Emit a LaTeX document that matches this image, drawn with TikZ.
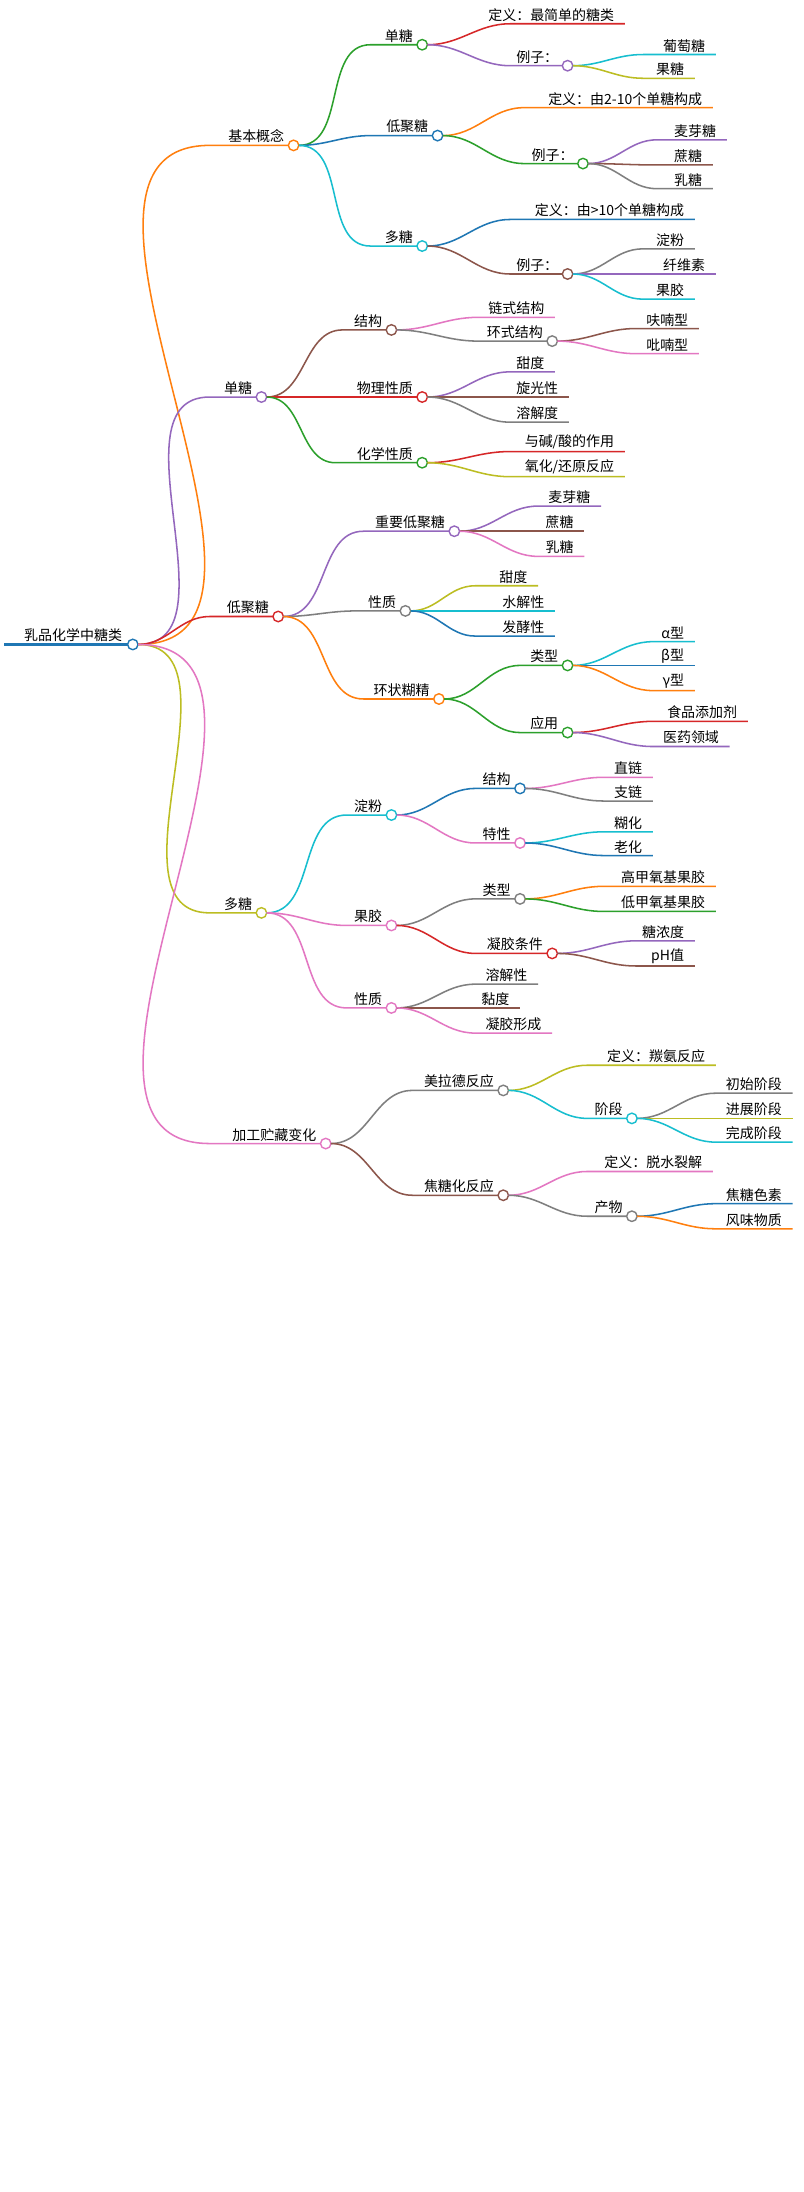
\documentclass[tikz,border=0pt]{standalone}
\usepackage{fontspec}
\setmainfont{Noto Sans CJK SC}
\begin{document}
\begin{tikzpicture}[x=1pt,y=1pt]
\definecolor{cO}{RGB}{255,127,14}\definecolor{cB}{RGB}{31,119,180}
\definecolor{cG}{RGB}{44,160,44}\definecolor{cR}{RGB}{214,39,40}
\definecolor{cP}{RGB}{148,103,189}\definecolor{cN}{RGB}{140,86,75}
\definecolor{cK}{RGB}{227,119,194}\definecolor{cA}{RGB}{127,127,127}
\definecolor{cL}{RGB}{188,189,34}\definecolor{cC}{RGB}{23,190,207}
\tikzset{ln/.style={line width=1.1pt},
 cir/.style={circle,fill=white,line width=1pt,minimum size=7.5pt,inner sep=0pt},
 lbl/.style={font=\fontsize{10}{12}\selectfont,inner sep=1.5pt,text=black}}
\newcommand\nd[7]{\coordinate (#1s) at (#3,-#5); \coordinate (#1) at (#4,-#5);
 \draw[#6,ln] ([xshift=3.75pt]#2) to[out=0,in=180] (#1s) -- ([xshift=-3.75pt]#1);
 \node[cir,draw=#6] (#1c) at (#1) {};
 \node[lbl,anchor=south east] (#1t) at ([xshift=-5pt]#1) {#7};}
\newcommand\lf[7]{\coordinate (#1s) at (#3,-#5); \coordinate (#1) at (#4,-#5);
 \draw[#6,ln] ([xshift=3.75pt]#2) to[out=0,in=180] (#1s) -- (#1);
 \node[lbl,anchor=south east] (#1t) at ([xshift=-6pt]#1) {#7};}
\useasboundingbox[fill=white] (0,0) rectangle (575,-1568);
% root
\coordinate (r0) at (3,-461); \coordinate (r) at (95,-461);
\draw[cB,line width=2.5pt] (r0) -- ([xshift=-3.75pt]r);
\node[cir,draw=cB] (rc) at (r) {};
\node[lbl,anchor=south east] (rt) at ([xshift=-6pt]r) {乳品化学中糖类};
% level 1
\nd{a}{r}{150}{210}{104}{cO}{基本概念}
\nd{b}{r}{150}{187}{284}{cP}{单糖}
\nd{c}{r}{150}{199}{441}{cR}{低聚糖}
\nd{d}{r}{150}{187}{653}{cL}{多糖}
\nd{e}{r}{150}{233}{818}{cK}{加工贮藏变化}
% 基本概念
\nd{a1}{a}{265}{302}{32}{cG}{单糖}
\lf{a11}{a1}{365}{447}{17}{cR}{定义：最简单的糖类}
\nd{a12}{a1}{365}{406}{47}{cP}{例子：}
\lf{a121}{a12}{460}{512}{39}{cC}{葡萄糖}
\lf{a122}{a12}{460}{497}{56}{cL}{果糖}
\nd{a2}{a}{265}{313}{97}{cB}{低聚糖}
\lf{a21}{a2}{375}{510}{77}{cO}{定义：由2-10个单糖构成}
\nd{a22}{a2}{375}{417}{117}{cG}{例子：}
\lf{a221}{a22}{470}{520}{100}{cP}{麦芽糖}
\lf{a222}{a22}{470}{510}{118}{cN}{蔗糖}
\lf{a223}{a22}{470}{510}{135}{cA}{乳糖}
\nd{a3}{a}{265}{302}{176}{cC}{多糖}
\lf{a31}{a3}{365}{497}{157}{cB}{定义：由>10个单糖构成}
\nd{a32}{a3}{365}{406}{196}{cN}{例子：}
\lf{a321}{a32}{460}{497}{178}{cA}{淀粉}
\lf{a322}{a32}{460}{512}{196}{cP}{纤维素}
\lf{a323}{a32}{460}{497}{214}{cC}{果胶}
% 单糖
\nd{b1}{b}{245}{280}{236}{cN}{结构}
\lf{b11}{b1}{342}{397}{227}{cK}{链式结构}
\nd{b12}{b1}{342}{395}{244}{cA}{环式结构}
\lf{b121}{b12}{455}{500}{235}{cN}{呋喃型}
\lf{b122}{b12}{455}{500}{253}{cK}{吡喃型}
\nd{b2}{b}{240}{302}{284}{cR}{物理性质}
\lf{b21}{b2}{365}{397}{266}{cP}{甜度}
\lf{b22}{b2}{365}{407}{284}{cN}{旋光性}
\lf{b23}{b2}{365}{407}{302}{cA}{溶解度}
\nd{b3}{b}{240}{302}{331}{cG}{化学性质}
\lf{b31}{b3}{365}{447}{323}{cR}{与碱/酸的作用}
\lf{b32}{b3}{365}{447}{341}{cL}{氧化/还原反应}
% 低聚糖
\nd{c1}{c}{260}{325}{380}{cP}{重要低聚糖}
\lf{c11}{c1}{385}{430}{362}{cP}{麦芽糖}
\lf{c12}{c1}{385}{418}{380}{cN}{蔗糖}
\lf{c13}{c1}{385}{418}{398}{cK}{乳糖}
\nd{c2}{c}{255}{290}{437}{cA}{性质}
\lf{c21}{c2}{340}{385}{419}{cL}{甜度}
\lf{c22}{c2}{340}{397}{437}{cC}{水解性}
\lf{c23}{c2}{340}{397}{455}{cB}{发酵性}
\nd{c3}{c}{260}{314}{500}{cO}{环状糊精}
\nd{c31}{c3}{372}{406}{476}{cG}{类型}
\lf{c311}{c31}{467}{497}{459}{cC}{α型}
\lf{c312}{c31}{467}{497}{476}{cB}{β型}
\lf{c313}{c31}{467}{497}{494}{cO}{γ型}
\nd{c32}{c3}{372}{406}{524}{cG}{应用}
\lf{c321}{c32}{467}{535}{516}{cR}{食品添加剂}
\lf{c322}{c32}{467}{522}{534}{cP}{医药领域}
% 多糖
\nd{d1}{d}{248}{280}{583}{cC}{淀粉}
\nd{d11}{d1}{340}{372}{564}{cB}{结构}
\lf{d111}{d11}{432}{467}{556}{cK}{直链}
\lf{d112}{d11}{432}{467}{573}{cA}{支链}
\nd{d12}{d1}{340}{372}{603}{cK}{特性}
\lf{d121}{d12}{432}{467}{595}{cC}{糊化}
\lf{d122}{d12}{432}{467}{612}{cB}{老化}
\nd{d2}{d}{248}{280}{662}{cK}{果胶}
\nd{d21}{d2}{340}{372}{643}{cA}{类型}
\lf{d211}{d21}{432}{512}{634}{cO}{高甲氧基果胶}
\lf{d212}{d21}{432}{512}{652}{cG}{低甲氧基果胶}
\nd{d22}{d2}{340}{395}{682}{cR}{凝胶条件}
\lf{d221}{d22}{455}{497}{673}{cP}{糖浓度}
\lf{d222}{d22}{455}{497}{691}{cN}{pH值}
\nd{d3}{d}{248}{280}{721}{cK}{性质}
\lf{d31}{d3}{340}{385}{704}{cA}{溶解性}
\lf{d32}{d3}{340}{372}{721}{cN}{黏度}
\lf{d33}{d3}{340}{395}{739}{cK}{凝胶形成}
% 加工贮藏变化
\nd{e1}{e}{295}{360}{780}{cA}{美拉德反应}
\lf{e11}{e1}{420}{512}{762}{cL}{定义：羰氨反应}
\nd{e12}{e1}{420}{452}{800}{cC}{阶段}
\lf{e121}{e12}{512}{567}{782}{cA}{初始阶段}
\lf{e122}{e12}{512}{567}{800}{cL}{进展阶段}
\lf{e123}{e12}{512}{567}{817}{cC}{完成阶段}
\nd{e2}{e}{295}{360}{855}{cN}{焦糖化反应}
\lf{e21}{e2}{420}{510}{838}{cK}{定义：脱水裂解}
\nd{e22}{e2}{420}{452}{870}{cA}{产物}
\lf{e221}{e22}{512}{567}{861}{cB}{焦糖色素}
\lf{e222}{e22}{512}{567}{879}{cO}{风味物质}
\end{tikzpicture}
\end{document}
